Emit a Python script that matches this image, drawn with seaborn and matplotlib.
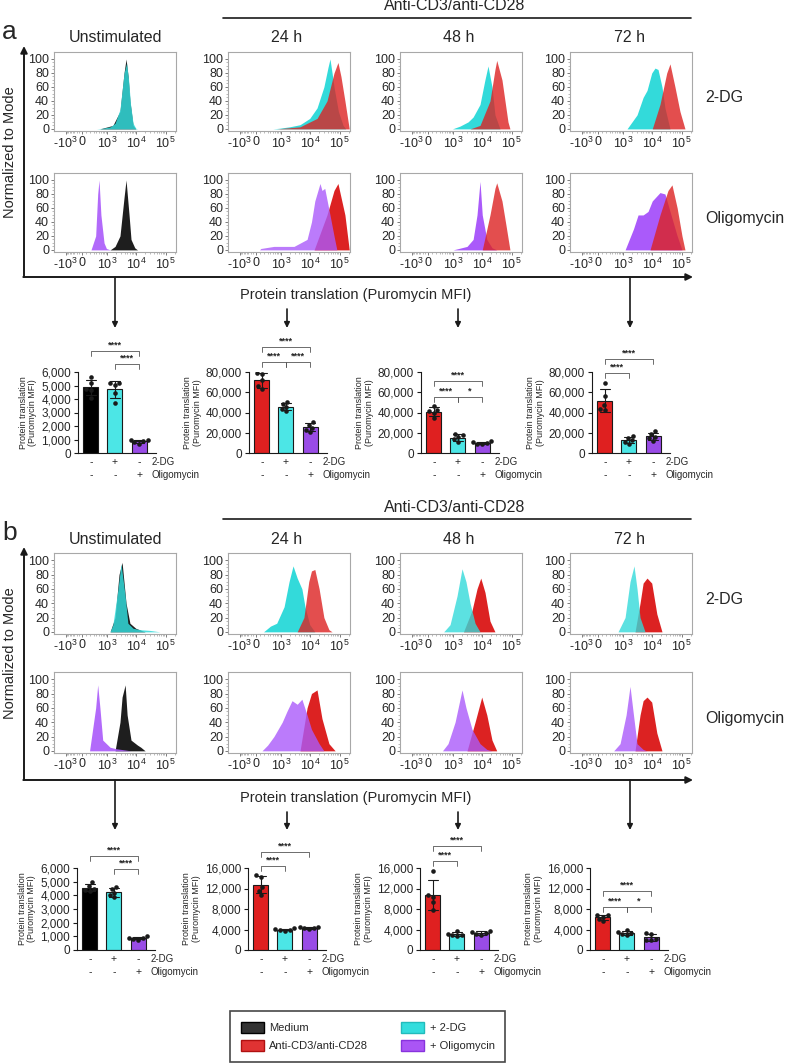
import numpy as np
import pandas as pd
import matplotlib
matplotlib.use('Agg')
import matplotlib.pyplot as plt
import matplotlib.transforms as mtransforms
from matplotlib.ticker import FixedLocator, FixedFormatter, NullFormatter
from matplotlib.patches import Patch
import seaborn as sns

sns.set_theme(style='ticks')
plt.rcParams['font.family'] = ['Liberation Sans', 'DejaVu Sans']
plt.rcParams['mathtext.fontset'] = 'custom'
plt.rcParams['mathtext.rm'] = 'Liberation Sans'
plt.rcParams['mathtext.it'] = 'Liberation Sans:italic'
plt.rcParams['mathtext.bf'] = 'Liberation Sans:bold'

# ---------------- text ----------------
COL_TITLES = ['Unstimulated', '24 h', '48 h', '72 h']
ROW_LABELS = ['2-DG', 'Oligomycin']
HEADER = 'Anti-CD3/anti-CD28'
HIST_YLABEL = 'Normalized to Mode'
HIST_XLABEL = 'Protein translation (Puromycin MFI)'
BAR_YLABEL = 'Protein translation\n(Puromycin MFI)'
HIST_XTICKS = [-1000, 0, 1000, 10000, 100000]
HIST_XTICKLABELS = ['-$10^3$', '0', '$10^3$', '$10^4$', '$10^5$']
HIST_YTICKS = [0, 20, 40, 60, 80, 100]
GROUPS = ['ctrl', 'dg', 'ol']
DG_SIGNS = ['-', '+', '-']
OL_SIGNS = ['-', '-', '+']
LEGEND_LABELS = ['Medium', 'Anti-CD3/anti-CD28', '+ 2-DG', '+ Oligomycin']

# ---------------- histogram data (MFI, % of mode) ----------------
# panel a, 2-DG row
A_UN_DG_MED = [(550, 0), (1600, 5), (2800, 25), (3850, 80), (4500, 100), (5300, 75), (6100, 40), (7800, 5), (9600, 0)]
A_UN_DG_TRT = [(400, 0), (700, 1), (1300, 3), (1900, 8), (2800, 28), (3850, 80), (4700, 94), (5500, 70), (6400, 35), (7800, 8), (9600, 1), (11000, 0)]
A_24_DG_TRT = [(500, 0), (900, 1), (2000, 3), (4500, 6), (9600, 15), (17000, 30), (29000, 60), (40000, 88), (46700, 100), (55000, 80), (64000, 60), (90000, 25), (130000, 5), (160000, 0)]
A_24_DG_STIM = [(700, 0), (4500, 3), (17000, 15), (37000, 40), (64000, 80), (87000, 95), (110000, 75), (150000, 40), (210000, 0)]
A_48_DG_TRT = [(950, 0), (1750, 4), (3300, 10), (4900, 17), (8400, 35), (12300, 70), (15700, 90), (21400, 60), (27000, 20), (40000, 0)]
A_48_DG_STIM = [(3850, 0), (8400, 5), (18300, 40), (27000, 85), (31000, 98), (46700, 70), (59000, 40), (74600, 10), (87000, 0)]
A_72_DG_TRT = [(1380, 0), (3040, 20), (4900, 45), (6640, 55), (9600, 80), (12400, 87), (15700, 85), (21400, 60), (27000, 30), (40000, 0)]
A_72_DG_STIM = [(10000, 0), (18300, 35), (31000, 80), (40000, 93), (59000, 60), (87000, 25), (129000, 0)]
# panel a, oligomycin row
A_UN_OL_TRT = [(220, 0), (370, 20), (450, 80), (508, 100), (600, 50), (783, 10), (950, 2), (1300, 0)]
A_UN_OL_MED = [(1280, 0), (1900, 5), (2800, 20), (3850, 75), (4500, 100), (5700, 50), (6640, 15), (8900, 3), (11000, 0)]
A_24_OL_TRT = [(80, 0), (110, 2), (550, 5), (2800, 5), (7800, 15), (11000, 40), (14300, 70), (21400, 95), (25000, 85), (31000, 88), (46700, 50), (64000, 20), (80000, 0)]
A_24_OL_STIM = [(13500, 0), (37000, 50), (64000, 85), (87000, 95), (150000, 50), (210000, 0)]
A_48_OL_TRT = [(1000, 0), (3040, 5), (4900, 15), (6640, 50), (8400, 98), (10000, 50), (14300, 15), (21400, 3), (31000, 0)]
A_48_OL_STIM = [(10000, 0), (18300, 50), (27000, 88), (31000, 96), (46700, 70), (64000, 35), (87000, 0)]
A_72_OL_TRT = [(1180, 0), (2300, 30), (3300, 50), (4900, 50), (7200, 55), (10000, 70), (18300, 82), (27000, 80), (40000, 55), (70000, 20), (102000, 0)]
A_72_OL_STIM = [(8400, 0), (18300, 50), (34200, 85), (46700, 93), (70000, 60), (102000, 20), (129000, 0)]
# panel b, 2-DG row
B_UN_DG_MED = [(1280, 0), (1900, 20), (2600, 80), (3300, 97), (4500, 40), (6100, 12), (9600, 5), (17000, 1), (20000, 0)]
B_UN_DG_TRT = [(1280, 0), (1600, 10), (2400, 60), (3040, 95), (4200, 50), (5200, 12), (7800, 5), (13500, 3), (29000, 2), (64000, 0)]
B_24_DG_TRT = [(180, 0), (400, 8), (700, 12), (1280, 35), (1900, 70), (2600, 92), (3600, 75), (5200, 60), (6640, 35), (9600, 10), (14300, 0)]
B_24_DG_STIM = [(3600, 0), (6100, 20), (8900, 70), (11000, 85), (14300, 87), (20000, 60), (29000, 20), (43000, 3), (55000, 0)]
B_48_DG_TRT = [(450, 0), (783, 10), (1380, 50), (2050, 88), (2800, 70), (3850, 40), (5700, 12), (8400, 0)]
B_48_DG_STIM = [(2300, 0), (4500, 30), (6640, 60), (8900, 75), (12400, 55), (18300, 15), (27000, 0)]
B_72_DG_TRT = [(660, 0), (1180, 20), (1750, 70), (2400, 92), (3040, 60), (3850, 20), (5700, 0)]
B_72_DG_STIM = [(2600, 0), (3850, 40), (4900, 68), (6640, 75), (9600, 68), (14300, 25), (21400, 0)]
# panel b, oligomycin row
B_UN_OL_TRT = [(180, 0), (370, 60), (450, 92), (550, 60), (700, 15), (1280, 5), (2050, 3), (4500, 1), (6500, 0)]
B_UN_OL_MED = [(1900, 0), (2800, 40), (3300, 75), (4200, 92), (4900, 50), (6640, 15), (11000, 8), (14300, 5), (20000, 0)]
B_24_OL_TRT = [(140, 0), (300, 8), (550, 20), (1100, 40), (1600, 55), (2400, 70), (3600, 65), (5200, 72), (7800, 50), (11000, 30), (20000, 10), (29000, 0)]
B_24_OL_STIM = [(4500, 0), (7800, 60), (11000, 80), (17000, 85), (25000, 45), (43000, 10), (70000, 0)]
B_48_OL_TRT = [(400, 0), (660, 10), (1180, 40), (2050, 85), (2800, 60), (4500, 30), (8400, 10), (14300, 2), (21400, 0)]
B_48_OL_STIM = [(3040, 0), (5700, 40), (9600, 75), (14300, 50), (21400, 15), (31000, 0)]
B_72_OL_TRT = [(450, 0), (783, 10), (1280, 50), (1750, 90), (2300, 50), (3040, 10), (4900, 2), (6500, 0)]
B_72_OL_STIM = [(2600, 0), (3850, 50), (4900, 70), (6640, 75), (9600, 68), (14300, 25), (21400, 0)]

# ---------------- bar data (replicates) ----------------
A_UN_MED = [5650, 5150, 4750, 4650, 4100]
A_UN_DG = [5200, 5150, 5050, 4450, 3700]
A_UN_OL = [1000, 950, 880, 800, 700]
A_24_STIM = [79500, 78500, 72000, 66000, 63000]
A_24_DG = [50500, 48500, 45500, 43500, 41000]
A_24_OL = [30500, 28000, 25000, 23000, 21000]
A_48_STIM = [46000, 42500, 41500, 39500, 34500]
A_48_DG = [19000, 17500, 15500, 13500, 11000]
A_48_OL = [12000, 10500, 9500, 9000, 8500]
A_72_STIM = [69500, 56000, 47000, 43500, 42500]
A_72_DG = [17000, 15000, 12500, 11000, 9000]
A_72_OL = [21500, 18500, 16000, 14500, 12000]
B_UN_MED = [4950, 4650, 4500, 4400, 4300]
B_UN_DG = [4600, 4500, 4200, 4000, 3850]
B_UN_OL = [1000, 900, 850, 800, 760]
B_24_STIM = [14700, 14300, 12300, 11600, 10800]
B_24_DG = [4200, 4100, 4000, 3900, 3800]
B_24_OL = [4550, 4400, 4300, 4200, 4100]
B_48_STIM = [15500, 10700, 10400, 9300, 7800]
B_48_DG = [3800, 3200, 3000, 2900, 2800]
B_48_OL = [3800, 3500, 3300, 3100, 3000]
B_72_STIM = [6900, 6750, 6500, 6100, 5600]
B_72_DG = [3900, 3500, 3300, 3050, 2900]
B_72_OL = [3300, 3100, 2200, 2000, 1900]

YT_6K = [0, 1000, 2000, 3000, 4000, 5000, 6000]
YT_80K = [0, 20000, 40000, 60000, 80000]
YT_16K = [0, 4000, 8000, 12000, 16000]

# significance: (from group, to group, bracket y in px, label)
SIG_A = [
    [(0, 2, 351, '****'), (1, 2, 364, '****')],
    [(0, 2, 347, '****'), (0, 1, 362, '****'), (1, 2, 362, '****')],
    [(0, 2, 381, '****'), (0, 1, 397, '****'), (1, 2, 397, '*')],
    [(0, 2, 359, '****'), (0, 1, 373, '****')],
]
SIG_B = [
    [(0, 2, 856, '****'), (1, 2, 869, '****')],
    [(0, 2, 852, '****'), (0, 1, 866, '****')],
    [(0, 2, 846, '****'), (0, 1, 861, '****')],
    [(0, 2, 891, '****'), (0, 1, 907, '****'), (1, 2, 907, '*')],
]

# ---------------- colours ----------------
H_BLACK, H_RED, H_CYAN, H_PURP = '#1e1e1e', '#dc2222', '#33dada', '#aa5afa'
B_BLACK, B_RED, B_CYAN, B_PURP = '#000000', '#ff0000', '#33ffff', '#9933ff'

W, H = 785, 1063
fig = plt.figure(figsize=(W / 100, H / 100), dpi=100)


def add_ax(l, t, w, h):
    return fig.add_axes([l / W, 1 - (t + h) / H, w / W, h / H])


ov = add_ax(0, 0, W, H)
ov.set_xlim(0, W)
ov.set_ylim(H, 0)
ov.axis('off')

LIN_W = 290.0
NEG_K = 0.66


def fwd(x):
    x = np.asarray(x, dtype=float)
    a = np.arcsinh(x / LIN_W)
    return np.where(x >= 0, a, NEG_K * a)


def inv(y):
    y = np.asarray(y, dtype=float)
    with np.errstate(over='ignore', invalid='ignore'):
        return np.where(y >= 0, LIN_W * np.sinh(y), LIN_W * np.sinh(y / NEG_K))


X_LEFT = float(inv(-2.19))
X_RIGHT = 223000

MINOR_X = ([-k * 100 for k in range(1, 10)] + [k * 100 for k in range(1, 10)] +
           [k * 1000 for k in range(2, 10)] + [k * 10000 for k in range(2, 10)] + [200000])


def hist_ax(l, t, w, h, curves):
    ax = add_ax(l, t, w, h)
    ax.set_xscale('function', functions=(fwd, inv))
    for pts, color, alpha in curves:
        xs = [p[0] for p in pts]
        ys = [p[1] for p in pts]
        ax.fill_between(xs, ys, 0, color=color, alpha=alpha, lw=0)
    ax.set_xlim(X_LEFT, X_RIGHT)
    ax.set_ylim(-3, 110)
    ax.xaxis.set_major_locator(FixedLocator(HIST_XTICKS))
    ax.xaxis.set_major_formatter(FixedFormatter(HIST_XTICKLABELS))
    ax.xaxis.set_minor_locator(FixedLocator(MINOR_X))
    ax.xaxis.set_minor_formatter(NullFormatter())
    ax.yaxis.set_major_locator(FixedLocator(HIST_YTICKS))
    ax.yaxis.set_minor_locator(FixedLocator(list(range(5, 100, 5))))
    ax.tick_params(axis='both', which='major', labelsize=9, length=2.5, width=0.6,
                   color='#666666', pad=1)
    ax.tick_params(axis='both', which='minor', length=1.2, width=0.4, color='#888888')
    for s in ax.spines.values():
        s.set_color('#a8a8a8')
        s.set_linewidth(0.8)
    ax.grid(False)
    ax.set_facecolor('white')
    return ax


def bar_ax(l, t, w, h, vals, colors, ymax, yticks, sigs):
    ax = add_ax(l, t, w, h)
    df = pd.DataFrame({'grp': np.repeat(GROUPS, 5), 'val': np.concatenate(vals)})
    sns.barplot(data=df, x='grp', y='val', hue='grp', palette=colors, order=GROUPS,
                hue_order=GROUPS, errorbar='sd', capsize=0.4,
                err_kws={'color': 'k', 'linewidth': 0.8}, edgecolor='k', linewidth=0.8,
                width=0.62, legend=False, ax=ax)
    sns.swarmplot(data=df, x='grp', y='val', order=GROUPS, color='k', size=3.3, ax=ax)
    ax.set_xlim(-0.53, 2.7)
    ax.set_ylim(0, ymax)
    ax.set_yticks(yticks)
    ax.set_yticklabels([f'{v:,}' for v in yticks])
    ax.set_xticks([])
    ax.set_xlabel('')
    ax.set_ylabel(BAR_YLABEL, fontsize=6.5, labelpad=3, linespacing=1.05)
    sns.despine(ax=ax)
    for s in ['left', 'bottom']:
        ax.spines[s].set_linewidth(0.8)
        ax.spines[s].set_color('k')
    ax.tick_params(axis='y', labelsize=8.5, length=3, width=0.8, pad=2, color='k')
    ax.grid(False)
    ax.patch.set_alpha(0)
    tr = mtransforms.blended_transform_factory(ax.transData, ax.transAxes)
    r1 = -9 / h
    r2 = -22 / h
    for i in range(3):
        ax.text(i, r1, DG_SIGNS[i], transform=tr, ha='center', va='center', fontsize=7.5)
        ax.text(i, r2, OL_SIGNS[i], transform=tr, ha='center', va='center', fontsize=7.5)
    ax.text(2.5, r1, ROW_LABELS[0], transform=tr, ha='left', va='center', fontsize=7)
    ax.text(2.5, r2, ROW_LABELS[1], transform=tr, ha='left', va='center', fontsize=7)
    zero = t + h
    d = 5 / h
    for i, j, ypx, lab in sigs:
        yf = (zero - ypx) / h
        ax.plot([i, i, j, j], [yf - d, yf, yf, yf - d], transform=tr, clip_on=False,
                color='#555555', lw=0.6)
        ax.text((i + j) / 2, yf + 1 / h, lab, transform=tr, ha='center', va='bottom',
                fontsize=6.5, fontweight='bold', color='#222222')
    return ax


COL_LEFT = [54, 228, 400, 570]
HIST_W = 122
ARROW_X = [115, 287, 458, 630]
TITLE_X = [116, 287, 459, 630]


def panel(letter, y0, hists, bars, sigs, bar_lefts, bar_top, bar_h, ylims, ytks,
          row_tops, row_h, axis_y, arrow_short_top, arrow_end):
    ov.text(2, y0 + 8, letter, fontsize=19, ha='left', va='center')
    ov.text(455, y0 - 18, HEADER, fontsize=11.5, ha='center', va='center')
    ov.plot([223, 691], [y0 - 6, y0 - 6], color='k', lw=1.2)
    for k in range(4):
        ov.text(TITLE_X[k], y0 + 14, COL_TITLES[k], fontsize=11.5, ha='center', va='center')
    for r in range(2):
        for k in range(4):
            hist_ax(COL_LEFT[k], row_tops[r], HIST_W, row_h, hists[r][k])
        ov.text(705, row_tops[r] + row_h / 2 + 6, ROW_LABELS[r], fontsize=11.5,
                ha='left', va='center')
    ov.annotate('', xy=(24, row_tops[0] - 6), xytext=(24, axis_y),
                arrowprops=dict(arrowstyle='-|>', lw=1.4, color='k', mutation_scale=10,
                                shrinkA=0, shrinkB=0))
    ov.annotate('', xy=(693, axis_y), xytext=(23.3, axis_y),
                arrowprops=dict(arrowstyle='-|>', lw=1.4, color='k', mutation_scale=10,
                                shrinkA=0, shrinkB=0))
    ov.text(10, (row_tops[0] + row_tops[1] + row_h) / 2, HIST_YLABEL, rotation=90,
            fontsize=10.5, ha='center', va='center')
    ov.text(356, axis_y + 18, HIST_XLABEL, fontsize=10.5, ha='center', va='center')
    for k in range(4):
        start = axis_y if k in (0, 3) else arrow_short_top
        ov.annotate('', xy=(ARROW_X[k], arrow_end), xytext=(ARROW_X[k], start),
                    arrowprops=dict(arrowstyle='-|>', lw=1.2, color='k', mutation_scale=8,
                                    shrinkA=0, shrinkB=0))
    for k in range(4):
        bar_ax(bar_lefts[k], bar_top, 78, bar_h, bars[k][0], bars[k][1], ylims[k], ytks[k],
               sigs[k])


HIST_A = [
    [[(A_UN_DG_MED, H_BLACK, 1.0), (A_UN_DG_TRT, H_CYAN, 0.85)],
     [(A_24_DG_TRT, H_CYAN, 1.0), (A_24_DG_STIM, H_RED, 0.8)],
     [(A_48_DG_TRT, H_CYAN, 1.0), (A_48_DG_STIM, H_RED, 0.8)],
     [(A_72_DG_TRT, H_CYAN, 1.0), (A_72_DG_STIM, H_RED, 0.8)]],
    [[(A_UN_OL_MED, H_BLACK, 1.0), (A_UN_OL_TRT, H_PURP, 0.9)],
     [(A_24_OL_STIM, H_RED, 1.0), (A_24_OL_TRT, H_PURP, 0.8)],
     [(A_48_OL_TRT, H_PURP, 1.0), (A_48_OL_STIM, H_RED, 0.8)],
     [(A_72_OL_TRT, H_PURP, 1.0), (A_72_OL_STIM, H_RED, 0.8)]],
]
HIST_B = [
    [[(B_UN_DG_MED, H_BLACK, 1.0), (B_UN_DG_TRT, H_CYAN, 0.85)],
     [(B_24_DG_TRT, H_CYAN, 1.0), (B_24_DG_STIM, H_RED, 0.8)],
     [(B_48_DG_STIM, H_RED, 1.0), (B_48_DG_TRT, H_CYAN, 0.8)],
     [(B_72_DG_STIM, H_RED, 1.0), (B_72_DG_TRT, H_CYAN, 0.8)]],
    [[(B_UN_OL_MED, H_BLACK, 1.0), (B_UN_OL_TRT, H_PURP, 0.9)],
     [(B_24_OL_STIM, H_RED, 1.0), (B_24_OL_TRT, H_PURP, 0.8)],
     [(B_48_OL_STIM, H_RED, 1.0), (B_48_OL_TRT, H_PURP, 0.8)],
     [(B_72_OL_STIM, H_RED, 1.0), (B_72_OL_TRT, H_PURP, 0.8)]],
]
BARS_A = [
    ([A_UN_MED, A_UN_DG, A_UN_OL], [B_BLACK, B_CYAN, B_PURP]),
    ([A_24_STIM, A_24_DG, A_24_OL], [B_RED, B_CYAN, B_PURP]),
    ([A_48_STIM, A_48_DG, A_48_OL], [B_RED, B_CYAN, B_PURP]),
    ([A_72_STIM, A_72_DG, A_72_OL], [B_RED, B_CYAN, B_PURP]),
]
BARS_B = [
    ([B_UN_MED, B_UN_DG, B_UN_OL], [B_BLACK, B_CYAN, B_PURP]),
    ([B_24_STIM, B_24_DG, B_24_OL], [B_RED, B_CYAN, B_PURP]),
    ([B_48_STIM, B_48_DG, B_48_OL], [B_RED, B_CYAN, B_PURP]),
    ([B_72_STIM, B_72_DG, B_72_OL], [B_RED, B_CYAN, B_PURP]),
]

panel('a', 24, HIST_A, BARS_A, SIG_A, [78, 249, 421, 592], 372, 81,
      [6000, 80000, 80000, 80000], [YT_6K, YT_80K, YT_80K, YT_80K],
      [52, 173], 79, 277, 309, 328)
panel('b', 525, HIST_B, BARS_B, SIG_B, [77, 248, 420, 590], 868, 82,
      [6000, 16000, 16000, 16000], [YT_6K, YT_16K, YT_16K, YT_16K],
      [553, 672], 81, 780, 812, 830)

handles = [Patch(facecolor='#333333', edgecolor='#000000', lw=1.0),
           Patch(facecolor='#e03333', edgecolor='#b01010', lw=1.0),
           Patch(facecolor='#33dddd', edgecolor='#22bbbb', lw=1.0),
           Patch(facecolor='#aa55f5', edgecolor='#8833dd', lw=1.0)]
leg = fig.legend(handles, LEGEND_LABELS, loc='upper left',
                 bbox_to_anchor=(230 / W, 1 - 1011 / H), ncol=2, frameon=True,
                 fancybox=False, edgecolor='k', fontsize=8, handlelength=2.1,
                 handleheight=1.2, columnspacing=2.9, borderpad=0.95, labelspacing=0.6,
                 handletextpad=0.5, borderaxespad=0)
leg.get_frame().set_linewidth(1.2)

fig.savefig('out.png', dpi=100, facecolor='white')
